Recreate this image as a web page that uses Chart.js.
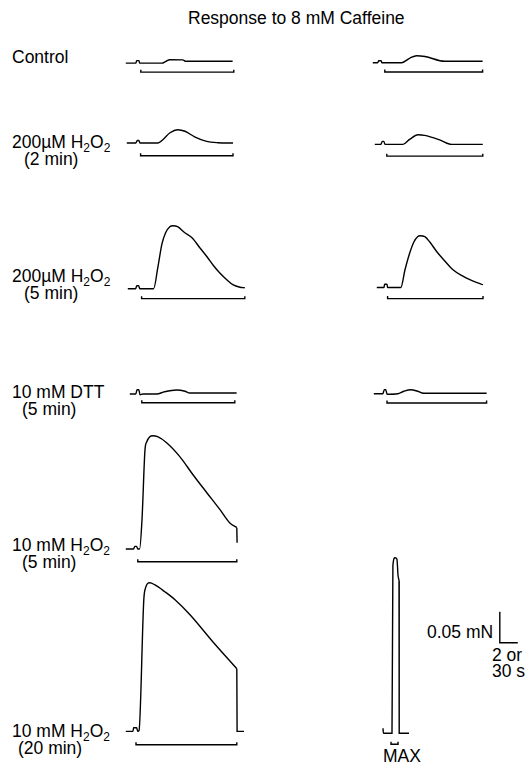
<!DOCTYPE html>
<html>
<head>
<meta charset="utf-8">
<script src="https://cdn.jsdelivr.net/npm/chart.js@4.4.1/dist/chart.umd.min.js"></script>
<style>
  html, body { margin: 0; padding: 0; background: #fff; }
  #page { position: relative; width: 527px; height: 764px; overflow: hidden; font-family: "Liberation Sans", Arial, sans-serif; color: #000; }
  .trace { position: absolute; }
  .lbl { position: absolute; font-size: 17.5px; line-height: 17px; white-space: nowrap; }
  .lbl sub { font-size: 12px; line-height: 0; vertical-align: -4px; }
</style>
</head>
<body>
<div id="page">
  <div class="lbl" style="left:188px;top:10px;">Response to 8 mM Caffeine</div>
  <div class="lbl" style="left:12px;top:49px;">Control</div>
  <div class="lbl" style="left:12px;top:134px;">200&micro;M H<sub>2</sub>O<sub>2</sub></div>
  <div class="lbl" style="left:24px;top:151px;">(2 min)</div>
  <div class="lbl" style="left:12px;top:268px;">200&micro;M H<sub>2</sub>O<sub>2</sub></div>
  <div class="lbl" style="left:24px;top:285px;">(5 min)</div>
  <div class="lbl" style="left:12px;top:384px;">10 mM DTT</div>
  <div class="lbl" style="left:22px;top:401px;">(5 min)</div>
  <div class="lbl" style="left:12px;top:537px;">10 mM H<sub>2</sub>O<sub>2</sub></div>
  <div class="lbl" style="left:22px;top:554px;">(5 min)</div>
  <div class="lbl" style="left:12px;top:723px;">10 mM H<sub>2</sub>O<sub>2</sub></div>
  <div class="lbl" style="left:18px;top:740px;">(20 min)</div>
  <div class="lbl" style="left:383px;top:748px;">MAX</div>
  <div class="lbl" style="left:427px;top:624px;">0.05 mN</div>
  <div class="lbl" style="left:492px;top:647px;">2 or</div>
  <div class="lbl" style="left:492px;top:663px;">30 s</div>
</div>
<script>
// time in s from trace start, force in mN above resting baseline
// caffeine (or MAX) application window [start, end] in s

const controlL_t = [0, 17, 18, 22, 23, 60, 67, 73, 95, 100, 178];
const controlL_f = [0, 0, 0.004, 0.004, 0, 0, 0.003, 0.0055, 0.0053, 0.003, 0.003];
const controlL_caf = [25, 180];

const controlR_t = [0, 8, 10, 14, 15, 48, 62, 73, 87, 120, 183];
const controlR_f = [0, 0, 0.0032, 0.0032, 0, 0, 0.0076, 0.0113, 0.010, 0.0023, 0.0023];
const controlR_caf = [20, 183];

const h2o2_2L_t = [0, 15, 17.5, 20, 22, 52, 60, 72, 85, 97, 113, 133, 152, 177];
const h2o2_2L_f = [0, 0, 0.0042, 0.0042, 0, 0, 0.0053, 0.0166, 0.0215, 0.019, 0.010, 0.0026, 0.0005, 0];
const h2o2_2L_caf = [23, 177];

const h2o2_2R_t = [0, 10, 12.5, 15, 17, 47, 58, 72, 83, 108, 128, 180];
const h2o2_2R_f = [0, 0, 0.0048, 0.0048, 0, 0, 0.008, 0.0156, 0.0145, 0.0073, 0, 0];
const h2o2_2R_caf = [20, 180];

const h2o2_5L_t = [0, 13, 15, 18, 20, 43, 50, 57, 63, 70, 75, 83, 95, 107, 120, 132, 143, 153, 165, 175, 187, 195];
const h2o2_5L_f = [0, 0, 0.0048, 0.0048, 0, 0, 0.0339, 0.0726, 0.0903, 0.100, 0.1016, 0.100, 0.0903, 0.0823, 0.0661, 0.0516, 0.0371, 0.0258, 0.0145, 0.0065, 0.0024, 0.0016];
const h2o2_5L_caf = [23, 195];

const h2o2_5R_t = [0, 12, 13, 17, 18, 40, 47, 55, 62, 68, 72, 80, 88, 100, 113, 127, 142, 155, 167, 177];
const h2o2_5R_f = [0, 0, 0.0052, 0.0052, 0, 0, 0.0285, 0.0559, 0.0737, 0.0818, 0.0834, 0.0818, 0.0737, 0.0576, 0.0431, 0.0285, 0.0189, 0.0124, 0.0076, 0.0044];
const h2o2_5R_caf = [18, 177];

const dttL_t = [0, 10, 12, 15, 17, 22, 45, 58, 78, 92, 100, 178];
const dttL_f = [0, 0, 0.0069, 0.0069, -0.0011, 0, 0, 0.0037, 0.0065, 0.0045, 0.0016, 0.0016];
const dttL_caf = [20, 175];

const dttR_t = [0, 15, 17.5, 20, 22, 40, 50, 62, 73, 83, 188];
const dttR_f = [0, 0, 0.0065, 0.0065, -0.0008, 0, 0.004, 0.0065, 0.004, 0.0008, 0.0008];
const dttR_caf = [22, 188];

const h2o2_10a_t = [0, 13, 15, 18, 20, 23, 27, 32, 35, 40, 45, 53, 68, 90, 112, 135, 157, 173, 185, 185.5];
const h2o2_10a_f = [0, 0, 0.0042, 0.0042, 0, 0, 0.0473, 0.1602, 0.1731, 0.1811, 0.1827, 0.1811, 0.1714, 0.149, 0.1198, 0.0908, 0.0634, 0.0424, 0.0344, 0.0102];
const h2o2_10a_caf = [20, 185];

const h2o2_10b_t = [0, 12, 13, 18, 20, 22, 30, 33, 40, 48, 65, 82, 107, 145, 185, 185.5, 197];
const h2o2_10b_f = [0, 0, 0.006, 0.006, 0, 0.0011, 0.2124, 0.2318, 0.2398, 0.2366, 0.2253, 0.2124, 0.1882, 0.1447, 0.1011, 0, 0];
const h2o2_10b_caf = [17, 185];

const max_t = [0, 0.05, 1, 1.1, 1.33, 1.55, 1.67, 1.78, 1.8, 2.89];
const max_f = [0.008, 0, 0, 0.271, 0.2831, 0.2806, 0.2548, 0.2468, 0, 0];
const max_win = [0.89, 1.67];

// calibration bar: 0.05 mN by 30 s
const calib_t = [0, 0.01, 30];
const calib_f = [0.05, 0, 0];

const PX_PER_S = 0.6;
const PX_PER_S_MAX = 9;
const PX_PER_MN = 620;
const TICK_MN = 0.004;

const page = document.getElementById('page');

function lineSet(points, smooth) {
    return {
        data: points,
        borderColor: '#000',
        borderWidth: 1.4,
        pointRadius: 0,
        cubicInterpolationMode: smooth ? 'monotone' : 'default',
        tension: 0,
        fill: false
    };
}

// straightFrom: index where the smooth part stops and the trace goes straight (abrupt drops)
function addTrace(t, f, win, x0, y0, bracketMN, pxs, straightFrom) {
    pxs = pxs || PX_PER_S;
    const tMin = -3;
    const tEnd = Math.max(...t, win ? win[1] : 0);
    const fMax = Math.max(...f) + 0.006;
    const fLow = Math.min(bracketMN, Math.min(...f)) - 0.006;
    const w = Math.ceil((tEnd + 3 - tMin) * pxs);
    const h = Math.ceil((fMax - fLow) * PX_PER_MN);
    const tMax = tMin + w / pxs;
    const fMin = fMax - h / PX_PER_MN;

    const box = document.createElement('div');
    box.className = 'trace';
    box.style.left = (x0 + tMin * pxs) + 'px';
    box.style.top = (y0 - fMax * PX_PER_MN) + 'px';
    const canvas = document.createElement('canvas');
    canvas.width = w;
    canvas.height = h;
    canvas.style.width = w + 'px';
    canvas.style.height = h + 'px';
    box.appendChild(canvas);
    page.appendChild(box);

    const pts = t.map((x, i) => ({ x: x, y: f[i] }));
    const k = straightFrom === undefined ? pts.length - 1 : straightFrom;
    const datasets = [lineSet(pts.slice(0, k + 1), k > 1)];
    if (k < pts.length - 1) datasets.push(lineSet(pts.slice(k), false));
    if (win) {
        datasets.push(lineSet([
            { x: win[0], y: bracketMN + TICK_MN },
            { x: win[0], y: bracketMN },
            { x: win[1], y: bracketMN },
            { x: win[1], y: bracketMN + TICK_MN }
        ], false));
    }

    new Chart(canvas, {
        type: 'line',
        data: { datasets: datasets },
        options: {
            responsive: false,
            animation: false,
            devicePixelRatio: 1,
            layout: { padding: 0 },
            plugins: { legend: { display: false }, tooltip: { enabled: false } },
            scales: {
                x: { type: 'linear', display: false, min: tMin, max: tMax },
                y: { type: 'linear', display: false, min: fMin, max: fMax }
            }
        }
    });
}

addTrace(controlL_t, controlL_f, controlL_caf, 126, 63, -0.0145);
addTrace(controlR_t, controlR_f, controlR_caf, 373, 62.7, -0.015);
addTrace(h2o2_2L_t, h2o2_2L_f, h2o2_2L_caf, 127, 143.3, -0.0205);
addTrace(h2o2_2R_t, h2o2_2R_f, h2o2_2R_caf, 375, 144, -0.019);
addTrace(h2o2_5L_t, h2o2_5L_f, h2o2_5L_caf, 128, 289, -0.016);
addTrace(h2o2_5R_t, h2o2_5R_f, h2o2_5R_caf, 377, 287.7, -0.018);
addTrace(dttL_t, dttL_f, dttL_caf, 130, 394.3, -0.014);
addTrace(dttR_t, dttR_f, dttR_caf, 374, 393.5, -0.015);
addTrace(h2o2_10a_t, h2o2_10a_f, h2o2_10a_caf, 126, 549.3, -0.0205, PX_PER_S, 18);
addTrace(h2o2_10b_t, h2o2_10b_f, h2o2_10b_caf, 126, 731.7, -0.0215, PX_PER_S, 14);
addTrace(max_t, max_f, max_win, 383, 733, -0.0177, PX_PER_S_MAX, 7);
addTrace(calib_t, calib_f, null, 500, 643, 0, PX_PER_S, 0);
</script>
</body>
</html>
